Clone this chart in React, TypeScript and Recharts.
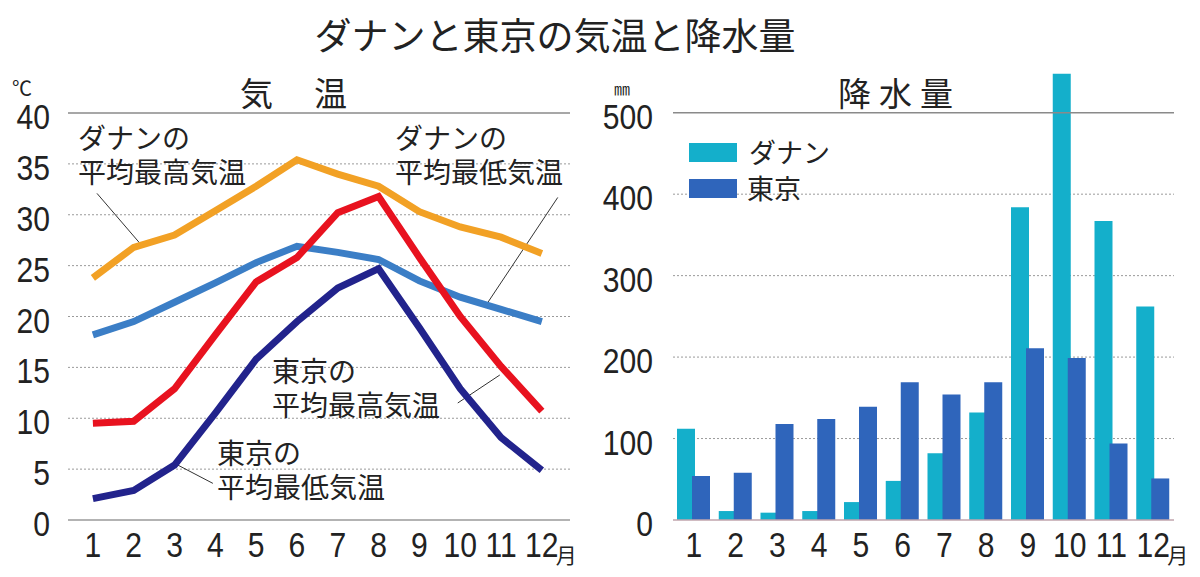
import React from "react";
import {
  LineChart, Line, BarChart, Bar, XAxis, YAxis, CartesianGrid, ReferenceLine,
} from "recharts";

const months = [1, 2, 3, 4, 5, 6, 7, 8, 9, 10, 11, 12];
const danangMax = [23.8, 26.8, 28.0, 30.4, 32.8, 35.4, 34.0, 32.8, 30.3, 28.8, 27.8, 26.2];
const danangMin = [18.2, 19.5, 21.4, 23.3, 25.3, 26.9, 26.3, 25.6, 23.5, 21.9, 20.7, 19.5];
const tokyoMax = [9.5, 9.7, 12.9, 18.2, 23.4, 25.8, 30.2, 31.8, 25.8, 20.0, 15.1, 10.7];
const tokyoMin = [2.1, 2.9, 5.4, 10.5, 15.8, 19.5, 22.8, 24.7, 18.9, 12.9, 8.1, 4.9];
const rainDanang = [112, 11, 9, 11, 22, 48, 82, 132, 384, 548, 367, 262];
const rainTokyo = [54, 58, 118, 124, 139, 169, 154, 169, 211, 199, 94, 51];
const tempTicks = [0, 5, 10, 15, 20, 25, 30, 35, 40];
const tempGrid = [5, 10, 15, 20, 25, 30, 35];
const rainTicks = [0, 100, 200, 300, 400, 500];
const rainGrid = [100, 200, 300, 400];

const tempData = months.map((m, i) => ({
  month: m, dMax: danangMax[i], dMin: danangMin[i], tMax: tokyoMax[i], tMin: tokyoMin[i],
}));
const rainData = months.map((m, i) => ({ month: m, danang: rainDanang[i], tokyo: rainTokyo[i] }));

const NUM = "'Liberation Sans',Arial,sans-serif";
const JP = "'Noto Sans CJK JP','Noto Sans CJK SC',sans-serif";
const TXT = "#222";
const SX = 0.86;

const XTick = (props: any) => {
  const { x, y, payload } = props;
  return (
    <g>
      <text transform={`translate(${x} ${y + 37}) scale(${SX} 1)`} textAnchor="middle" fontSize={35} fill={TXT} fontFamily={NUM}>
        {payload.value}
      </text>
      {Number(payload.value) === 12 && (
        <text x={x + 14} y={y + 43} fontSize={21} fill={TXT} fontFamily={JP}>月</text>
      )}
    </g>
  );
};

const YTick = (props: any) => {
  const { x, y, payload } = props;
  return (
    <text transform={`translate(${x} ${y + 16}) scale(${SX} 1)`} textAnchor="end" fontSize={35} fill={TXT} fontFamily={NUM}>
      {payload.value}
    </text>
  );
};

const abs = (left: number, top: number, extra: React.CSSProperties = {}): React.CSSProperties => ({
  position: "absolute", left, top, whiteSpace: "nowrap", color: TXT, fontFamily: JP, ...extra,
});

const Note = ({ left, top, lines }: { left: number; top: number; lines: string[] }) => (
  <div style={abs(left, top, { fontSize: 28, lineHeight: "34px" })}>
    {lines.map((l) => (
      <div key={l}>{l}</div>
    ))}
  </div>
);

export default function App() {
  return (
    <div style={{ position: "absolute", left: 0, top: 0, width: 1200, height: 577, background: "#fff", overflow: "hidden" }}>
      <div style={{ position: "absolute", left: 0, top: 0 }}>
        <LineChart width={600} height={577} data={tempData} margin={{ top: 113, right: 30, bottom: 17, left: 0 }}>
          <CartesianGrid horizontal vertical={false} horizontalValues={tempGrid} stroke="#9a9a9a" strokeDasharray="2 2" />
          <XAxis
            dataKey="month" type="number" domain={[0.39, 12.69]} ticks={months}
            height={40} tickSize={0} tickMargin={0} tickLine={false}
            axisLine={{ stroke: "#9a9a9a", strokeWidth: 1.5 }} tick={<XTick />} interval={0}
          />
          <YAxis
            domain={[0, 40]} ticks={tempTicks} width={68} tickSize={0} tickMargin={18}
            axisLine={false} tickLine={false} tick={<YTick />} interval={0}
          />
          <ReferenceLine y={40} stroke="#8a8a8a" strokeWidth={1.5} />
          <ReferenceLine segment={[{ x: 1.1, y: 32.1 }, { x: 2.15, y: 27.2 }]} stroke="#333" strokeWidth={1} />
          <ReferenceLine segment={[{ x: 12.39, y: 31.7 }, { x: 10.68, y: 21.4 }]} stroke="#333" strokeWidth={1} />
          <ReferenceLine segment={[{ x: 9.94, y: 11.5 }, { x: 10.97, y: 14.25 }]} stroke="#333" strokeWidth={1} />
          <ReferenceLine segment={[{ x: 3.08, y: 5.4 }, { x: 3.94, y: 3.6 }]} stroke="#333" strokeWidth={1} />
          <Line type="linear" dataKey="dMax" stroke="#F2A125" strokeWidth={7} dot={false} isAnimationActive={false} strokeLinejoin="miter" />
          <Line type="linear" dataKey="dMin" stroke="#3B7EC6" strokeWidth={7} dot={false} isAnimationActive={false} strokeLinejoin="miter" />
          <Line type="linear" dataKey="tMin" stroke="#22238C" strokeWidth={7} dot={false} isAnimationActive={false} strokeLinejoin="miter" />
          <Line type="linear" dataKey="tMax" stroke="#E8121F" strokeWidth={7} dot={false} isAnimationActive={false} strokeLinejoin="miter" />
        </LineChart>
      </div>

      <div style={{ position: "absolute", left: 600, top: 0 }}>
        <BarChart width={600} height={577} data={rainData} margin={{ top: 72, right: 26, bottom: 17, left: 0 }} barGap={-3}>
          <CartesianGrid horizontal vertical={false} horizontalValues={rainGrid} stroke="#9a9a9a" strokeDasharray="2 2" />
          <XAxis
            dataKey="month" height={40} tickSize={0} tickMargin={0} tickLine={false}
            axisLine={{ stroke: "#c0a4ac", strokeWidth: 1.5 }} tick={<XTick />} interval={0}
          />
          <YAxis
            domain={[0, 550]} ticks={rainTicks} width={73} tickSize={0} tickMargin={20}
            axisLine={false} tickLine={false} tick={<YTick />} interval={0}
          />
          <ReferenceLine y={500} stroke="#8a8a8a" strokeWidth={1.5} />
          <Bar dataKey="danang" fill="#14AFCB" barSize={18} isAnimationActive={false} />
          <Bar dataKey="tokyo" fill="#2F65BB" barSize={18} isAnimationActive={false} />
        </BarChart>
      </div>

      <div style={abs(0, 14, { width: 1200, left: 0, textAlign: "center", fontSize: 37, lineHeight: "40px" })}>
        <span style={{ position: "relative", left: -45 }}>ダナンと東京の気温と降水量</span>
      </div>

      <div style={abs(240, 74, { fontSize: 33, lineHeight: "36px", letterSpacing: 41 })}>気温</div>
      <div style={abs(838, 74, { fontSize: 33, lineHeight: "36px", letterSpacing: 8 })}>降水量</div>

      <div style={abs(12, 76, { fontSize: 20, lineHeight: "24px" })}>℃</div>
      <div style={abs(614, 79, { fontSize: 16, lineHeight: "18px" })}>㎜</div>

      <Note left={78} top={120} lines={["ダナンの", "平均最高気温"]} />
      <Note left={395} top={120} lines={["ダナンの", "平均最低気温"]} />
      <Note left={272} top={353} lines={["東京の", "平均最高気温"]} />
      <Note left={217} top={435} lines={["東京の", "平均最低気温"]} />

      <div style={{ position: "absolute", left: 689, top: 143, width: 48, height: 19, background: "#14AFCB" }} />
      <div style={{ position: "absolute", left: 689, top: 179, width: 48, height: 19, background: "#2F65BB" }} />
      <div style={abs(749, 135, { fontSize: 27, lineHeight: "34px" })}>ダナン</div>
      <div style={abs(747, 171, { fontSize: 27, lineHeight: "34px" })}>東京</div>
    </div>
  );
}
